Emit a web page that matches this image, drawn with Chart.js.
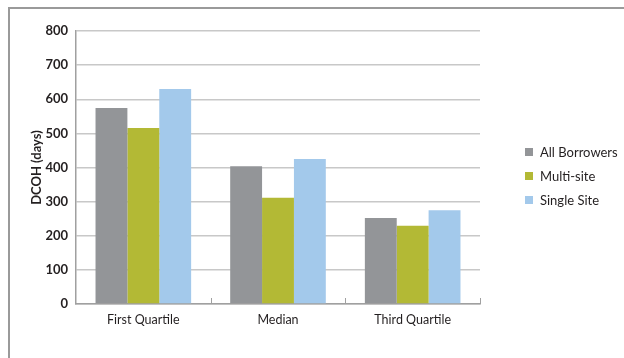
<!DOCTYPE html>
<html>
<head>
<meta charset="utf-8">
<script src="https://cdn.jsdelivr.net/npm/chart.js@4/dist/chart.umd.min.js"></script>
<style>
  body { margin: 0; background: #fff; }
  #wrap { position: relative; width: 624px; height: 358px; }
  #frame { position: absolute; left: 8px; top: 7px; right: 0; bottom: 0;
           border-top: 2px solid #9a9a9a; border-left: 2px solid #9a9a9a; }
  #legend { position: absolute; left: 525px; top: 144px; font-family: Lato, sans-serif;
            font-size: 13px; color: #231f20; }
  #legend div { height: 24px; line-height: 16px; white-space: nowrap; }
  #legend span { display: inline-block; width: 8px; height: 8px; margin-right: 7px; vertical-align: 1px; }
</style>
</head>
<body>
<div id="wrap">
  <div id="frame"></div>
  <canvas id="chart" width="624" height="358"></canvas>
  <div id="legend"></div>
</div>
<script>
// DCOH by quartile
const categorias = ['First Quartile', 'Median', 'Third Quartile'];
const todos = [574, 404, 252];
const multiSite = [516, 311, 229];
const singleSite = [630, 425, 275];
const ticksY = [0, 100, 200, 300, 400, 500, 600, 700, 800];

const series = [
    { label: 'All Borrowers', data: todos, color: '#939598' },
    { label: 'Multi-site', data: multiSite, color: '#b3b935' },
    { label: 'Single Site', data: singleSite, color: '#a3c9eb' }
];

// marcas pequeñas entre categorias
const marcasX = {
    id: 'marcasX',
    afterDatasetsDraw(chart) {
        const ctx = chart.ctx;
        const x = chart.scales.x;
        const bottom = chart.chartArea.bottom;
        ctx.save();
        ctx.strokeStyle = '#a0a0a0';
        ctx.lineWidth = 1;
        for (let i = 1; i <= categorias.length; i++) {
            const px = Math.round(x.getPixelForValue(i - 0.5)) + 0.5;
            ctx.beginPath();
            ctx.moveTo(px, bottom - 6);
            ctx.lineTo(px, bottom);
            ctx.stroke();
        }
        ctx.restore();
    }
};

Chart.defaults.font.family = 'Lato, sans-serif';
Chart.defaults.color = '#231f20';

new Chart(document.getElementById('chart').getContext('2d'), {
    type: 'bar',
    data: {
        labels: categorias,
        datasets: series.map(s => ({
            label: s.label,
            data: s.data,
            backgroundColor: s.color,
            borderWidth: 0,
            categoryPercentage: 0.71,
            barPercentage: 1
        }))
    },
    options: {
        responsive: false,
        animation: false,
        layout: { padding: { left: 27, right: 144, top: 31, bottom: 31 } },
        plugins: { legend: { display: false }, tooltip: { enabled: false } },
        scales: {
            x: {
                grid: { display: false },
                border: { color: '#a0a0a0', width: 1.5 },
                ticks: { font: { size: 12.5 }, padding: 0 }
            },
            y: {
                min: 0,
                max: 800,
                afterBuildTicks: axis => { axis.ticks = ticksY.map(v => ({ value: v })); },
                afterFit: axis => { axis.width = 49; },
                grid: { color: '#c8c8c8', lineWidth: 1.5, drawTicks: false },
                border: { color: '#a0a0a0', width: 1.5 },
                ticks: { font: { size: 13, weight: 'bold' }, padding: 8 },
                title: { display: true, text: 'DCOH (days)', font: { size: 13, weight: 'bold' }, padding: { top: 2, bottom: 0 } }
            }
        }
    },
    plugins: [marcasX]
});

// leyenda
const leyenda = document.getElementById('legend');
series.forEach(s => {
    const fila = document.createElement('div');
    fila.innerHTML = '<span style="background:' + s.color + '"></span>' + s.label;
    leyenda.appendChild(fila);
});
</script>
</body>
</html>
